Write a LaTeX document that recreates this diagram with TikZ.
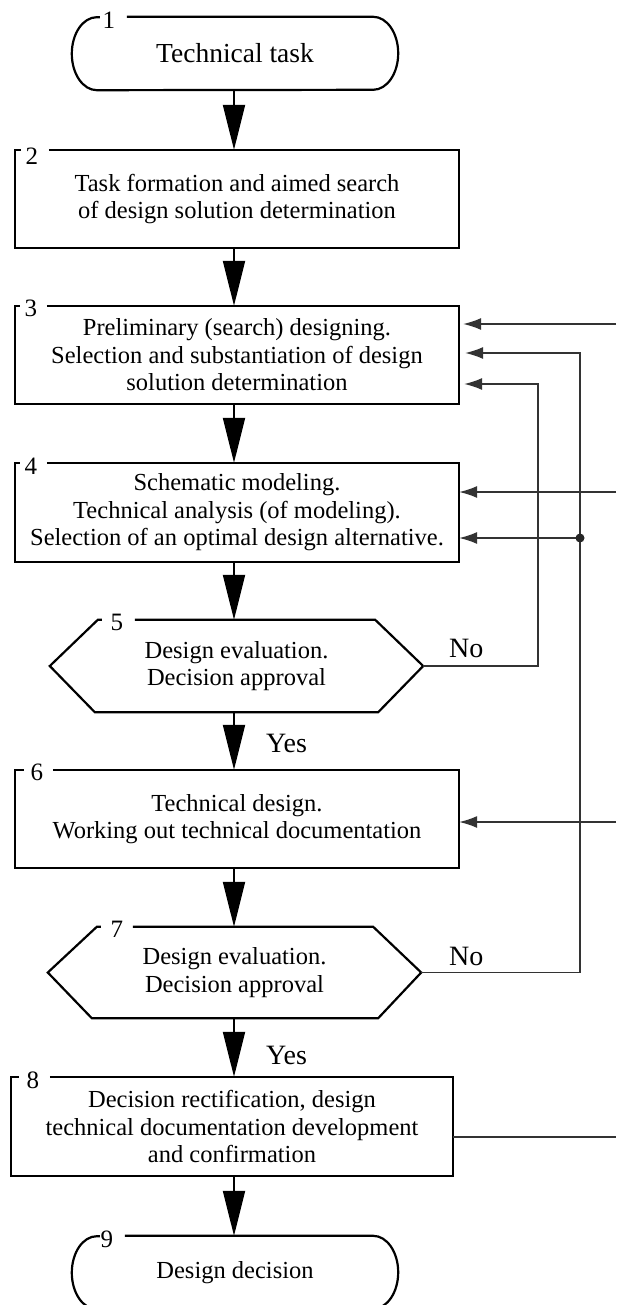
\documentclass[tikz,border=0pt]{standalone}
\usepackage{fontspec}
\setmainfont{Liberation Serif}
\usetikzlibrary{arrows.meta,calc}
\begin{document}
\begin{tikzpicture}[x=1pt,y=-1pt,
  boxline/.style={line width=2.2pt, line join=miter},
  txt/.style={inner sep=0pt, align=center, font=\fontsize{24.5}{27.5}\selectfont},
  num/.style={inner sep=0pt, font=\fontsize{25}{26}\selectfont},
  lbl/.style={inner sep=0pt, font=\fontsize{28}{30}\selectfont, anchor=base west},
  mainarrow/.style={line width=2pt, -{Triangle[length=45pt,width=22pt]}},
  fb/.style={line width=1.3pt, draw=black!80, -{Latex[length=18pt,width=12pt]}},
  fbl/.style={line width=1.3pt, draw=black!80}]
\useasboundingbox (0,0) rectangle (616,1305);

% nodes
\node[txt, minimum width=326pt, minimum height=73pt, font=\fontsize{27.5}{30}\selectfont] (t1) at (235,53.5) {Technical task};
\node[txt, minimum width=444pt, minimum height=98pt] (b2) at (237,199) {Task formation and aimed search\\of design solution determination};
\node[txt, minimum width=444pt, minimum height=98pt] (b3) at (237,355) {Preliminary (search) designing.\\Selection and substantiation of design\\solution determination};
\node[txt, minimum width=444pt, minimum height=99pt] (b4) at (237,512.5) {Schematic modeling.\\Technical analysis (of modeling).\\Selection of an optimal design alternative.};
\node[txt, minimum width=373pt, minimum height=92pt] (h5) at (236.5,666) {Design evaluation.\\Decision approval};
\node[txt, minimum width=444pt, minimum height=98pt] (b6) at (237,819) {Technical design.\\Working out technical documentation};
\node[txt, minimum width=373pt, minimum height=91pt] (h7) at (234.5,972.5) {Design evaluation.\\Decision approval};
\node[txt, minimum width=442pt, minimum height=99pt] (b8) at (232,1126.5) {Decision rectification, design\\technical documentation development\\and confirmation};
\node[txt, minimum width=326pt, minimum height=73pt] (t9) at (235,1272.5) {Design decision};

% outlines
\draw[boxline] ([xshift=55pt]t1.north west) -- ([xshift=-25pt]t1.north east)
  arc[start angle=90,end angle=-90,x radius=25pt,y radius=36.5pt]
  -- ([xshift=25pt]t1.south west)
  arc[start angle=270,end angle=90,x radius=25pt,y radius=36.5pt] -- ++(3,0);
\node[num] (n1) at ([xshift=37pt,yshift=-3pt]t1.north west) {1};

\draw[boxline] ([xshift=34pt]b2.north west) -- (b2.north east) -- (b2.south east) -- (b2.south west) -- (b2.north west) -- ([xshift=6pt]b2.north west);
\node[num] (n2) at ([xshift=17pt,yshift=-6pt]b2.north west) {2};

\draw[boxline] ([xshift=32pt]b3.north west) -- (b3.north east) -- (b3.south east) -- (b3.south west) -- (b3.north west) -- ([xshift=5pt]b3.north west);
\node[num] (n3) at ([xshift=16pt,yshift=-3pt]b3.north west) {3};

\draw[boxline] ([xshift=32pt]b4.north west) -- (b4.north east) -- (b4.south east) -- (b4.south west) -- (b4.north west) -- ([xshift=5pt]b4.north west);
\node[num] (n4) at ([xshift=16pt,yshift=-3pt]b4.north west) {4};

\draw[boxline] ([xshift=85pt]h5.north west) -- ([xshift=-48pt]h5.north east) -- (h5.east) -- ([xshift=-45pt]h5.south east) -- ([xshift=45pt]h5.south west) -- (h5.west) -- ([xshift=48pt]h5.north west) -- ([xshift=52pt]h5.north west);
\node[num] (n5) at ([xshift=67pt,yshift=-3pt]h5.north west) {5};

\draw[boxline] ([xshift=38pt]b6.north west) -- (b6.north east) -- (b6.south east) -- (b6.south west) -- (b6.north west) -- ([xshift=9pt]b6.north west);
\node[num] (n6) at ([xshift=22pt,yshift=-3pt]b6.north west) {6};

\draw[boxline] ([xshift=85pt]h7.north west) -- ([xshift=-48pt]h7.north east) -- (h7.east) -- ([xshift=-43pt]h7.south east) -- ([xshift=44pt]h7.south west) -- (h7.west) -- ([xshift=49pt]h7.north west) -- ([xshift=53pt]h7.north west);
\node[num] (n7) at ([xshift=69pt,yshift=-3pt]h7.north west) {7};

\draw[boxline] ([xshift=39pt]b8.north west) -- (b8.north east) -- (b8.south east) -- (b8.south west) -- (b8.north west) -- ([xshift=8pt]b8.north west);
\node[num] (n8) at ([xshift=22pt,yshift=-3pt]b8.north west) {8};

\draw[boxline] ([xshift=53pt]t9.north west) -- ([xshift=-25pt]t9.north east)
  arc[start angle=90,end angle=-90,x radius=25pt,y radius=36.5pt]
  -- ([xshift=25pt]t9.south west)
  arc[start angle=270,end angle=90,x radius=25pt,y radius=36.5pt] -- ++(3,0);
\node[num] (n9) at ([xshift=35pt,yshift=-4pt]t9.north west) {9};

% main flow
\coordinate (ax) at (234,0);
\draw[mainarrow] (t1.south -| ax) -- (b2.north -| ax);
\draw[mainarrow] (b2.south -| ax) -- (b3.north -| ax);
\draw[mainarrow] (b3.south -| ax) -- (b4.north -| ax);
\draw[mainarrow] (b4.south -| ax) -- (h5.north -| ax);
\draw[mainarrow] (h5.south -| ax) -- (b6.north -| ax);
\draw[mainarrow] (b6.south -| ax) -- (h7.north -| ax);
\draw[mainarrow] (h7.south -| ax) -- (b8.north -| ax);
\draw[mainarrow] (b8.south -| ax) -- (t9.north -| ax);

\node[lbl] (yes5) at (266,752) {Yes};
\node[lbl] (yes7) at (266,1064) {Yes};
\node[lbl] (no5) at (449,657) {No};
\node[lbl] (no7) at (449,965) {No};

% feedback
\coordinate (r1) at (616,324);
\coordinate (r2) at (616,492);
\coordinate (r3) at (616,822);
\coordinate (r4) at (616,1137);
\coordinate (xa) at (538,0);
\coordinate (xb) at (580,0);
\coordinate (y3b) at (0,353);
\coordinate (y3c) at (0,384);
\coordinate (dot) at (580,538);

\draw[fb, shorten >=4pt] (r1) -- (r1 -| b3.east);
\draw[fb, shorten >=6pt] (h7.east) -- (h7.east -| xb) -- (xb |- y3b) -- (y3b -| b3.east);
\draw[fb, shorten >=5pt] (h5.east) -- (h5.east -| xa) -- (xa |- y3c) -- (y3c -| b3.east);
\draw[fb] (r2) -- (r2 -| b4.east);
\draw[fb] (dot) -- (dot -| b4.east);
\fill[black!85] (dot) circle (4.5pt);
\draw[fb] (r3) -- (r3 -| b6.east);
\draw[fbl] (r4 -| b8.east) -- (r4);
\end{tikzpicture}
\end{document}
